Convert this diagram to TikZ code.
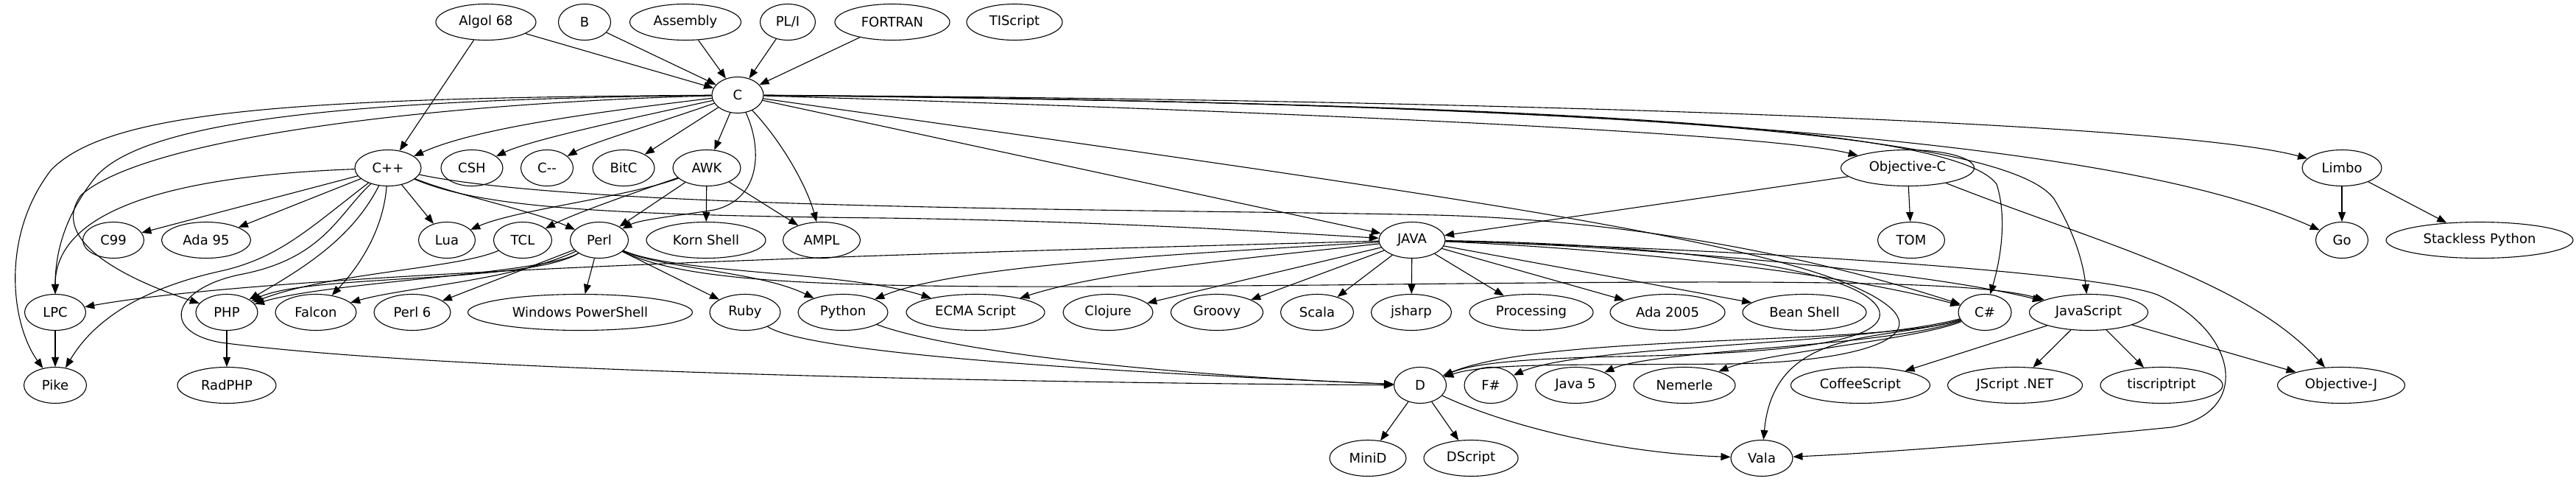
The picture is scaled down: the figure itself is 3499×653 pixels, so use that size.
\documentclass[tikz,border=0pt]{standalone}
\usepackage{fontspec}
\newfontfamily\langfont{DejaVu Sans}
\usetikzlibrary{shapes.geometric,arrows.meta}
\tikzset{
  lang/.style={draw, ellipse, inner sep=0pt, minimum height=49pt, line width=1.1pt,
    font=\langfont\fontsize{18}{20}\selectfont},
  e/.style={-{Triangle[length=13pt,width=10pt]}, line width=1.1pt}
}
\begin{document}
\begin{tikzpicture}[x=1pt,y=-1pt]
\useasboundingbox (0,0) rectangle (3499,653);
% row 0
\node[lang,minimum width=136pt] (algol) at (660,30) {Algol 68};
\node[lang,minimum width=71pt] (B) at (794,30) {B};
\node[lang,minimum width=151pt] (asm) at (931,30) {Assembly};
\node[lang,minimum width=75pt] (pli) at (1070,30) {PL/I};
\node[lang,minimum width=156pt] (fortran) at (1212,30) {FORTRAN};
\node[lang,minimum width=130pt] (tiscript) at (1378,30) {TIScript};
% row 1
\node[lang,minimum width=70pt] (C) at (1002,129) {C};
% row 2
\node[lang,minimum width=90pt] (cpp) at (527,228) {C++};
\node[lang,minimum width=84pt] (csh) at (641,228) {CSH};
\node[lang,minimum width=71pt] (cmm) at (743,228) {C--};
\node[lang,minimum width=84pt] (bitc) at (847,228) {BitC};
\node[lang,minimum width=92pt] (awk) at (960,228) {AWK};
\node[lang,minimum width=181pt] (objc) at (2591,228) {Objective-C};
\node[lang,minimum width=108pt] (limbo) at (3181,228) {Limbo};
% row 3
\node[lang,minimum width=83pt] (c99) at (154,326) {C99};
\node[lang,minimum width=121pt] (ada95) at (280,326) {Ada 95};
\node[lang,minimum width=77pt] (lua) at (607,326) {Lua};
\node[lang,minimum width=79pt] (tcl) at (710,326) {TCL};
\node[lang,minimum width=79pt] (perl) at (814,326) {Perl};
\node[lang,minimum width=162pt] (korn) at (959,326) {Korn Shell};
\node[lang,minimum width=105pt] (ampl) at (1116,326) {AMPL};
\node[lang,minimum width=90pt] (java) at (1918,326) {JAVA};
\node[lang,minimum width=91pt] (tom) at (2596,326) {TOM};
\node[lang,minimum width=71pt] (go) at (3181,326) {Go};
\node[lang,minimum width=254pt] (stackless) at (3368,326) {Stackless Python};
% row 4
\node[lang,minimum width=83pt] (lpc) at (75,424) {LPC};
\node[lang,minimum width=84pt] (php) at (308,424) {PHP};
\node[lang,minimum width=110pt] (falcon) at (429,424) {Falcon};
\node[lang,minimum width=104pt] (perl6) at (560,424) {Perl 6};
\node[lang,minimum width=305pt] (winps) at (788,424) {Windows PowerShell};
\node[lang,minimum width=96pt] (ruby) at (1012,424) {Ruby};
\node[lang,minimum width=122pt] (python) at (1145,424) {Python};
\node[lang,minimum width=188pt] (ecma) at (1325,424) {ECMA Script};
\node[lang,minimum width=122pt] (clojure) at (1505,424) {Clojure};
\node[lang,minimum width=125pt] (groovy) at (1653,424) {Groovy};
\node[lang,minimum width=99pt] (scala) at (1789,424) {Scala};
\node[lang,minimum width=109pt] (jsharp) at (1917,424) {jsharp};
\node[lang,minimum width=168pt] (processing) at (2080,424) {Processing};
\node[lang,minimum width=156pt] (ada2005) at (2265,424) {Ada 2005};
\node[lang,minimum width=168pt] (beanshell) at (2451,424) {Bean Shell};
\node[lang,minimum width=72pt] (csharp) at (2696,424) {C\#};
\node[lang,minimum width=161pt] (js) at (2837,424) {JavaScript};
% row 5
\node[lang,minimum width=85pt] (pike) at (75,523) {Pike};
\node[lang,minimum width=134pt] (radphp) at (308,523) {RadPHP};
\node[lang,minimum width=71pt] (D) at (1929,523) {D};
\node[lang,minimum width=72pt] (fsharp) at (2025,523) {F\#};
\node[lang,minimum width=109pt] (java5) at (2140,523) {Java 5};
\node[lang,minimum width=138pt] (nemerle) at (2288,523) {Nemerle};
\node[lang,minimum width=189pt] (coffee) at (2527,523) {CoffeeScript};
\node[lang,minimum width=183pt] (jscript) at (2737,523) {JScript .NET};
\node[lang,minimum width=166pt] (tisr) at (2936,523) {tiscriptript};
\node[lang,minimum width=173pt] (objj) at (3180,523) {Objective-J};
% row 6
\node[lang,minimum width=104pt] (minid) at (1858,622) {MiniD};
\node[lang,minimum width=128pt] (dscript) at (1998,622) {DScript};
\node[lang,minimum width=84pt] (vala) at (2393,622) {Vala};

% ---- edges into C
\draw[e] (algol) -- (C);
\draw[e] (algol) -- (cpp);
\draw[e] (B) -- (C);
\draw[e] (asm) -- (C);
\draw[e] (pli) -- (C);
\draw[e] (fortran) -- (C);
% ---- from C
\draw[e] (C) .. controls (830,150) and (650,172) .. (cpp);
\draw[e] (C) .. controls (860,160) and (720,190) .. (csh);
\draw[e] (C) .. controls (900,165) and (800,195) .. (cmm);
\draw[e] (C) -- (bitc);
\draw[e] (C) -- (awk);
\draw[e] (C) .. controls (1035,200) and (1035,270) .. (970,285) .. controls (920,293) and (870,298) .. (perl);
\draw[e] (C) .. controls (1060,190) and (1095,250) .. (ampl);
\draw[e] (C) -- (java);
\draw[e] (C) .. controls (1700,150) and (2400,180) .. (objc);
\draw[e] (C) .. controls (2000,135) and (2950,165) .. (limbo);
\draw[e] (C) .. controls (2300,140) and (2900,200) .. (go);
\draw[e] (C) .. controls (2000,140) and (2650,165) .. (2712,250) .. controls (2728,300) and (2715,360) .. (csharp);
\draw[e] (C) .. controls (2100,140) and (2720,175) .. (2790,270) .. controls (2820,320) and (2830,360) .. (js);
\draw[e] (C) .. controls (2000,270) and (2480,335) .. (2570,420) .. controls (2615,465) and (2500,492) .. (2350,494) .. controls (2150,496) and (2020,492) .. (D);
\draw[e] (C) .. controls (500,135) and (200,160) .. (130,240) .. controls (90,290) and (75,340) .. (lpc);
\draw[e] (C) .. controls (400,133) and (150,150) .. (70,230) .. controls (0,320) and (15,440) .. (pike);
\draw[e] (C) .. controls (600,140) and (200,185) .. (110,265) .. controls (70,320) and (150,372) .. (php);
% ---- from C++
\draw[e] (cpp) -- (c99);
\draw[e] (cpp) -- (ada95);
\draw[e] (cpp) -- (lua);
\draw[e] (cpp) .. controls (620,265) and (720,285) .. (perl);
\draw[e] (cpp) .. controls (520,320) and (480,370) .. (falcon);
\draw[e] (cpp) .. controls (480,320) and (420,360) .. (php);
\draw[e] (cpp) .. controls (250,238) and (75,280) .. (lpc);
\draw[e] (cpp) .. controls (420,310) and (380,350) .. (300,368) .. controls (200,390) and (130,430) .. (pike);
\draw[e] (cpp) .. controls (460,290) and (440,350) .. (330,372) .. controls (235,390) and (215,450) .. (300,465) .. controls (600,505) and (1400,520) .. (D);
\draw[e] (cpp) .. controls (650,280) and (800,292) .. (1200,296) .. controls (1500,300) and (1750,316) .. (java);
\draw[e] (cpp) .. controls (800,286) and (1600,284) .. (1950,292) .. controls (2250,300) and (2500,360) .. (csharp);
% ---- from AWK
\draw[e] (awk) .. controls (850,268) and (700,285) .. (lua);
\draw[e] (awk) .. controls (860,262) and (780,290) .. (tcl);
\draw[e] (awk) -- (perl);
\draw[e] (awk) -- (korn);
\draw[e] (awk) -- (ampl);
% ---- TCL, Perl
\draw[e] (tcl) .. controls (620,365) and (450,370) .. (php);
\draw[e] (perl) .. controls (720,385) and (420,372) .. (php);
\draw[e] (perl) .. controls (740,372) and (450,382) .. (php);
\draw[e] (perl) .. controls (700,380) and (550,390) .. (falcon);
\draw[e] (perl) -- (perl6);
\draw[e] (perl) -- (winps);
\draw[e] (perl) -- (ruby);
\draw[e] (perl) .. controls (900,365) and (1030,368) .. (python);
\draw[e] (perl) .. controls (920,372) and (1150,368) .. (ecma);
\draw[e] (perl) .. controls (950,392) and (1200,392) .. (1800,387) .. controls (2400,380) and (2680,380) .. (js);
% ---- from JAVA
\draw[e] (java) .. controls (1400,340) and (400,365) .. (lpc);
\draw[e] (java) .. controls (1600,345) and (1300,360) .. (python);
\draw[e] (java) .. controls (1700,350) and (1500,368) .. (ecma);
\draw[e] (java) -- (clojure);
\draw[e] (java) -- (groovy);
\draw[e] (java) -- (scala);
\draw[e] (java) -- (jsharp);
\draw[e] (java) -- (processing);
\draw[e] (java) -- (ada2005);
\draw[e] (java) -- (beanshell);
\draw[e] (java) .. controls (2200,338) and (2500,370) .. (csharp);
\draw[e] (java) .. controls (2200,333) and (2600,365) .. (js);
\draw[e] (java) .. controls (2200,330) and (2520,355) .. (2552,420) .. controls (2570,468) and (2400,480) .. (2200,484) .. controls (2060,487) and (2000,494) .. (D);
\draw[e] (java) .. controls (2400,340) and (2850,370) .. (2930,400) .. controls (3040,450) and (3060,560) .. (2950,580) .. controls (2750,600) and (2550,615) .. (vala);
% ---- Objective-C, Limbo
\draw[e] (objc) -- (java);
\draw[e] (objc) -- (tom);
\draw[e] (objc) .. controls (2850,330) and (3050,380) .. (objj);
\draw[e] (limbo) -- (go);
\draw[e] (limbo) -- (stackless);
% ---- C#
\draw[e] (csharp) .. controls (2550,470) and (2100,452) .. (D);
\draw[e] (csharp) .. controls (2520,470) and (2150,468) .. (fsharp);
\draw[e] (csharp) .. controls (2560,472) and (2250,474) .. (java5);
\draw[e] (csharp) .. controls (2600,462) and (2400,478) .. (nemerle);
\draw[e] (csharp) .. controls (2560,465) and (2410,440) .. (vala);
% ---- JavaScript
\draw[e] (js) -- (coffee);
\draw[e] (js) -- (jscript);
\draw[e] (js) -- (tisr);
\draw[e] (js) -- (objj);
% ---- D and others
\draw[e] (D) -- (minid);
\draw[e] (D) -- (dscript);
\draw[e] (D) .. controls (2050,580) and (2200,615) .. (vala);
\draw[e] (lpc) -- (pike);
\draw[e] (php) -- (radphp);
\draw[e] (ruby) .. controls (1100,480) and (1500,505) .. (D);
\draw[e] (python) .. controls (1300,480) and (1600,510) .. (D);
\end{tikzpicture}
\end{document}
